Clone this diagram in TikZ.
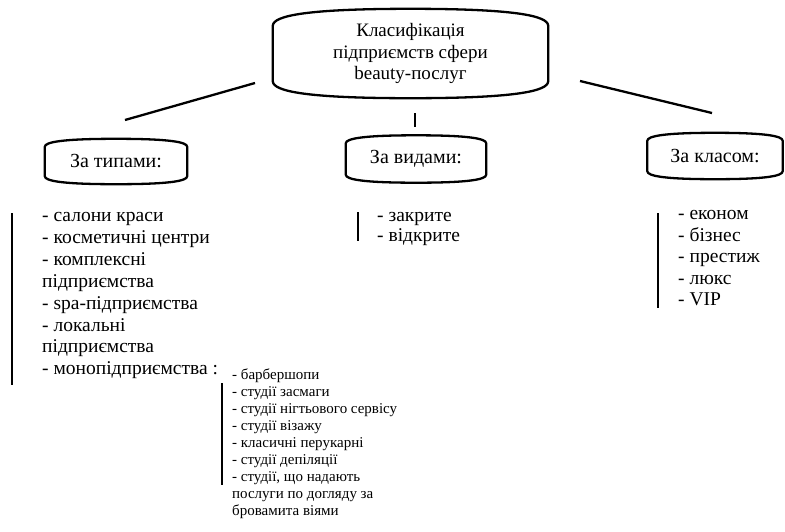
\documentclass[tikz,border=0pt]{standalone}
\usepackage{fontspec}
\setmainfont{Liberation Serif}
\usetikzlibrary{calc}
\tikzset{
  outline/.style={line width=2.3pt, line join=round},
  bar/.style={line width=2.3pt},
  conn/.style={line width=2.3pt},
  shapebox/.style args={#1x#2}{inner sep=0pt, minimum width=#1pt, minimum height=#2pt, align=center},
  titletext/.style={font=\fontsize{19}{21.5}\selectfont},
  labeltext/.style={font=\fontsize{20}{22}\selectfont},
  % multi-line nodes: base anchor = baseline of the LAST line
  listtext/.style={font=\fontsize{19.5}{21.9}\selectfont, align=left, anchor=base west, inner sep=0pt},
  sublisttext/.style={font=\fontsize{15}{16.9}\selectfont, align=left, anchor=base west, inner sep=0pt},
}
\newcommand\bulgeoutline[2]{%
  \draw[outline] ($(#1.south west)+(0,-#2)$) -- ($(#1.north west)+(0,#2)$)
    .. controls ($(#1.north west)+(0,0.4*#2)$) and ($(#1.north west)!0.25!(#1.north)$) .. (#1.north)
    .. controls ($(#1.north east)!0.25!(#1.north)$) and ($(#1.north east)+(0,0.4*#2)$) .. ($(#1.north east)+(0,#2)$)
    -- ($(#1.south east)+(0,-#2)$)
    .. controls ($(#1.south east)+(0,-0.4*#2)$) and ($(#1.south east)!0.25!(#1.south)$) .. (#1.south)
    .. controls ($(#1.south west)!0.25!(#1.south)$) and ($(#1.south west)+(0,-0.4*#2)$) .. cycle;}
\begin{document}
\begin{tikzpicture}[x=1pt, y=-1pt]
\useasboundingbox (0,0) rectangle (785,531);

% shapes
\node[shapebox=275x89, titletext] (top) at (410.5,53.5) {Класифікація\\підприємств сфери\\beauty-послуг};
\bulgeoutline{top}{17}

\node[shapebox=142x45, labeltext] (types) at (116,161.5) {За типами:};
\bulgeoutline{types}{8}
\node[shapebox=140x47, labeltext] (kinds) at (416,159) {За видами:};
\bulgeoutline{kinds}{8}
\node[shapebox=135x46, labeltext] (class) at (715,156) {За класом:};
\bulgeoutline{class}{8}

% connectors (free lines)
\coordinate (c1a) at (125,120);
\coordinate (c1b) at (255,83);
\coordinate (c2a) at (415,113);
\coordinate (c2b) at (415,127);
\coordinate (c3a) at (580,81);
\coordinate (c3b) at (712,113);
\draw[conn] (c1a) -- (c1b);
\draw[conn] (c2a) -- (c2b);
\draw[conn] (c3a) -- (c3b);

% lists
\node[listtext] (ltypes) at (42,374.8) {- салони краси\\- косметичні центри\\- комплексні\\підприємства\\- spa-підприємства\\- локальні\\підприємства\\- монопідприємства :};
\coordinate (b1a) at (12,213);
\coordinate (b1b) at (12,385);
\draw[bar] (b1a) -- (b1b);

\node[listtext, font=\fontsize{19.5}{20}\selectfont] (lkinds) at (377,241.5) {- закрите\\- відкрите};
\coordinate (b2a) at (358,212);
\coordinate (b2b) at (358,241);
\draw[bar] (b2a) -- (b2b);

\node[listtext, font=\fontsize{19.5}{21.5}\selectfont] (lclass) at (678,305.5) {- економ\\- бізнес\\- престиж\\- люкс\\- VIP};
\coordinate (b3a) at (658,213);
\coordinate (b3b) at (658,308);
\draw[bar] (b3a) -- (b3b);

\node[sublisttext] (lmono) at (232,515) {- барбершопи\\- студії засмаги\\- студії нігтьового сервісу\\- студії візажу\\- класичні перукарні\\- студії депіляції\\- студії, що надають\\послуги по догляду за\\бровамита віями};
\coordinate (b4a) at (222,383);
\coordinate (b4b) at (222,485);
\draw[bar] (b4a) -- (b4b);
\end{tikzpicture}
\end{document}
